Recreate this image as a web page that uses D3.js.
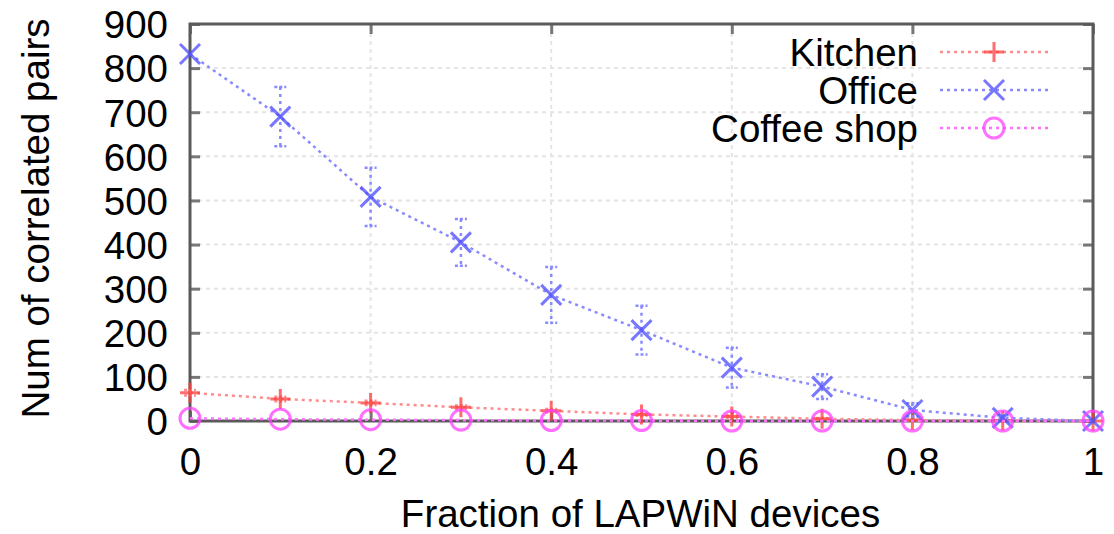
<!DOCTYPE html>
<html>
<head>
<meta charset="utf-8">
<script src="https://cdn.jsdelivr.net/npm/d3@7"></script>
<style>
  body { margin: 0; background: #fff; }
  text { font-family: "Liberation Sans", Arial, sans-serif; fill: #000; }
</style>
</head>
<body>
<svg id="chart" width="1114" height="534"></svg>
<script>
// data
var fractions = [0, 0.1, 0.2, 0.3, 0.4, 0.5, 0.6, 0.7, 0.8, 0.9, 1.0];
var kitchen     = [64, 50, 41, 31, 23, 15, 10, 5, 2, 1, 0];
var kitchenErr  = [6, 5, 5, 4, 4, 3, 3, 2, 1, 1, 0];
var office      = [832, 690, 508, 405, 286, 206, 121, 78, 25, 7, 0];
var officeErr   = [0, 67, 66, 53, 63, 55, 45, 28, 15, 6, 0];
var coffee      = [6, 4, 3, 2, 1, 1, 0, 0, 0, 0, 0];
var coffeeErr   = [0, 0, 0, 0, 0, 0, 0, 0, 0, 0, 0];
var seriesNames = ["Kitchen", "Office", "Coffee shop"];
var xTicks = [0, 0.2, 0.4, 0.6, 0.8, 1];
var yTicks = [0, 100, 200, 300, 400, 500, 600, 700, 800, 900];

var width = 1114, height = 534;
var margin = {left: 190, right: 21, top: 24, bottom: 113};
var fontsize = 38.5;

var svg = d3.select("#chart");
var x = d3.scaleLinear().domain([0, 1]).range([margin.left, width - margin.right]);
var y = d3.scaleLinear().domain([0, 900]).range([height - margin.bottom, margin.top]);

var series = [
    {name: seriesNames[0], vals: kitchen, err: kitchenErr, line: "#ff8c8c", mark: "#ff3c3c", shape: "plus"},
    {name: seriesNames[1], vals: office, err: officeErr, line: "#8a8aff", mark: "#4a4aff", shape: "cross"},
    {name: seriesNames[2], vals: coffee, err: coffeeErr, line: "#ff70ff", mark: "#ff40ff", shape: "circle"}
];

// grid
var grid = svg.append("g");
grid.selectAll(".gx").data(xTicks.slice(1, -1)).enter().append("line")
    .attr("x1", d => x(d)).attr("x2", d => x(d))
    .attr("y1", y(0)).attr("y2", y(900))
    .attr("stroke", "#e4e4e4").attr("stroke-width", 2).attr("stroke-dasharray", "4,4");
grid.selectAll(".gy").data(yTicks.slice(1, -1)).enter().append("line")
    .attr("x1", x(0)).attr("x2", x(1))
    .attr("y1", d => y(d)).attr("y2", d => y(d))
    .attr("stroke", "#e4e4e4").attr("stroke-width", 2).attr("stroke-dasharray", "4,4");

// axes (ticks inward, mirrored)
var axL = svg.append("g").attr("transform", "translate(" + x(0) + ",0)")
    .call(d3.axisLeft(y).tickValues(yTicks).tickSize(-10).tickPadding(22).tickFormat(d3.format("d")));
var axR = svg.append("g").attr("transform", "translate(" + x(1) + ",0)")
    .call(d3.axisRight(y).tickValues(yTicks).tickSize(-10).tickFormat(""));
var axB = svg.append("g").attr("transform", "translate(0," + y(0) + ")")
    .call(d3.axisBottom(x).tickValues(xTicks).tickSize(-10).tickPadding(27).tickFormat(d => d === 0 || d === 1 ? d3.format("d")(d) : d3.format(".1f")(d)));
var axT = svg.append("g").attr("transform", "translate(0," + y(900) + ")")
    .call(d3.axisTop(x).tickValues(xTicks).tickSize(-10).tickFormat(""));
[axL, axR, axB, axT].forEach(function (a) {
    a.select(".domain").remove();
    a.selectAll(".tick line").attr("stroke", "#777").attr("stroke-width", 3);
    a.selectAll(".tick text").style("font-size", fontsize + "px").attr("fill", "#000");
});
axL.selectAll(".tick text").attr("dy", "0.36em");

// frame
svg.append("rect")
    .attr("x", x(0)).attr("y", y(900))
    .attr("width", x(1) - x(0)).attr("height", y(0) - y(900))
    .attr("fill", "none").attr("stroke", "#5a5a5a").attr("stroke-width", 3);

// axis titles
svg.append("text")
    .attr("x", (x(0) + x(1)) / 2 - 1).attr("y", 527)
    .attr("text-anchor", "middle").style("font-size", fontsize + "px")
    .text("Fraction of LAPWiN devices");
svg.append("text")
    .attr("transform", "translate(49," + (y(450) - 4) + ") rotate(-90)")
    .attr("text-anchor", "middle").style("font-size", fontsize + "px")
    .text("Num of correlated pairs");

function drawMarker(g, shape, cx, cy, color) {
    if (shape === "plus") {
        g.append("path").attr("d", "M" + (cx - 10) + "," + cy + "H" + (cx + 10) + "M" + cx + "," + (cy - 10) + "V" + (cy + 10))
            .attr("stroke", color).attr("stroke-width", 3).attr("stroke-opacity", 0.75).attr("fill", "none");
    } else if (shape === "cross") {
        g.append("path").attr("d", "M" + (cx - 10) + "," + (cy - 10) + "L" + (cx + 10) + "," + (cy + 10) + "M" + (cx - 10) + "," + (cy + 10) + "L" + (cx + 10) + "," + (cy - 10))
            .attr("stroke", color).attr("stroke-width", 3).attr("stroke-opacity", 0.75).attr("fill", "none");
    } else {
        g.append("circle").attr("cx", cx).attr("cy", cy).attr("r", 10)
            .attr("stroke", color).attr("stroke-width", 3).attr("stroke-opacity", 0.75).attr("fill", "none");
    }
}

var line = d3.line().x(d => x(d[0])).y(d => y(d[1]));

series.forEach(function (s) {
    var g = svg.append("g");
    var pts = fractions.map((f, i) => [f, s.vals[i]]);
    g.append("path").datum(pts).attr("d", line)
        .attr("fill", "none").attr("stroke", s.line).attr("stroke-width", 2.5)
        .attr("stroke-dasharray", "3,4");
    // error bars
    fractions.forEach(function (f, i) {
        if (s.err[i] <= 0) return;
        var cx = x(f), y1 = y(s.vals[i] + s.err[i]), y2 = y(Math.max(0, s.vals[i] - s.err[i]));
        g.append("line").attr("x1", cx).attr("x2", cx).attr("y1", y1).attr("y2", y2)
            .attr("stroke", s.line).attr("stroke-width", 2.5).attr("stroke-dasharray", "3,4");
        [y1, y2].forEach(function (yy) {
            g.append("line").attr("x1", cx - 6).attr("x2", cx + 6).attr("y1", yy).attr("y2", yy)
                .attr("stroke", s.line).attr("stroke-width", 2.5).attr("stroke-dasharray", "3,2");
        });
    });
    fractions.forEach(function (f, i) { drawMarker(g, s.shape, x(f), y(s.vals[i]), s.mark); });
});

// legend
var legendY = [52, 90, 128];
series.forEach(function (s, i) {
    var g = svg.append("g");
    g.append("text").attr("x", 918).attr("y", legendY[i]).attr("dy", "0.36em")
        .attr("text-anchor", "end").style("font-size", fontsize + "px").text(s.name);
    g.append("line").attr("x1", 940).attr("x2", 1048).attr("y1", legendY[i]).attr("y2", legendY[i])
        .attr("stroke", s.line).attr("stroke-width", 2.5).attr("stroke-dasharray", "3,4");
    drawMarker(g, s.shape, 994, legendY[i], s.mark);
});
</script>
</body>
</html>
